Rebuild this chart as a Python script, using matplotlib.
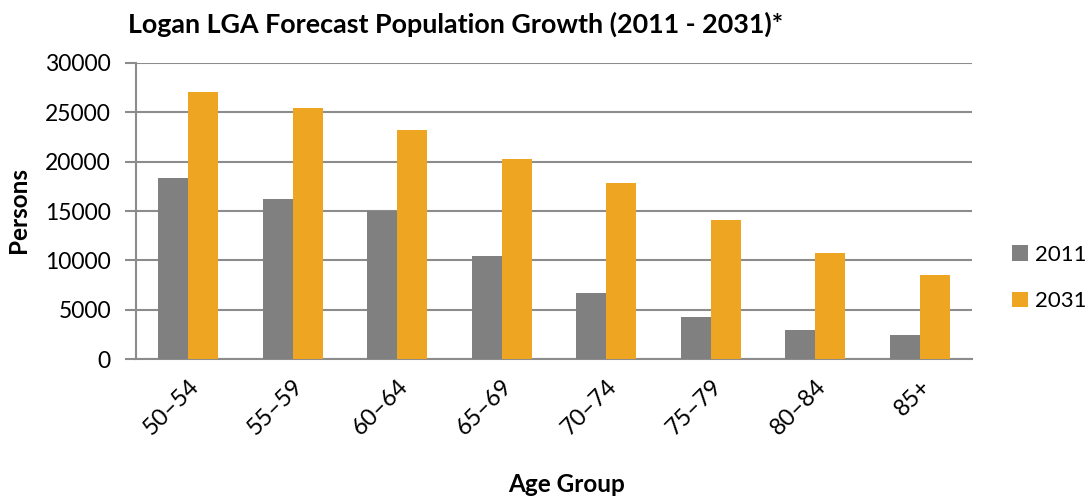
import numpy as np
import matplotlib.pyplot as plt

# data
age_groups = ['50–54', '55–59', '60–64', '65–69', '70–74', '75–79', '80–84', '85+']
pop_2011 = [18300, 16250, 15050, 10400, 6680, 4230, 2900, 2450]
pop_2031 = [27050, 25450, 23250, 20300, 17820, 14100, 10720, 8520]
yticks = [0, 5000, 10000, 15000, 20000, 25000, 30000]

grey = '#808080'
orange = '#EEA522'
line_col = '#8C8C8C'

plt.rcParams['font.family'] = ['Lato', 'DejaVu Sans']

fig = plt.figure(figsize=(10.91, 5), dpi=100)
ax = fig.add_axes([136 / 1091, 1 - 359 / 500, (972 - 136) / 1091, (359 - 63) / 500])

x = np.arange(len(age_groups))
w = 0.287
ax.bar(x - w / 2, pop_2011, w, color=grey, label='2011', zorder=3)
ax.bar(x + w / 2, pop_2031, w, color=orange, label='2031', zorder=3)

ax.set_xlim(-0.5, len(age_groups) - 0.5)
ax.set_ylim(0, 30000)
ax.set_yticks(yticks)
ax.set_yticklabels([str(t) for t in yticks], fontsize=16.5)
ax.yaxis.grid(True, color=line_col, linewidth=1.5, zorder=0)
ax.tick_params(axis='y', length=8, width=1.5, color=line_col, pad=10)
ax.tick_params(axis='x', length=0, pad=12)

ax.set_xticks(x)
ax.set_xticklabels(age_groups, fontsize=17, rotation=45, ha='right',
                   rotation_mode='anchor')

for s in ['top', 'right']:
    ax.spines[s].set_visible(False)
ax.spines['left'].set_color(line_col)
ax.spines['left'].set_linewidth(1.5)
ax.spines['bottom'].set_color(line_col)
ax.spines['bottom'].set_linewidth(1.5)

fig.text(128 / 1091, 1 - 24 / 500, 'Logan LGA Forecast Population Growth (2011 - 2031)*',
         fontsize=19.4, fontweight='bold', ha='left', va='center')
fig.text(19 / 1091, 1 - 210 / 500, 'Persons', fontsize=17.5, fontweight='bold',
         rotation=90, ha='center', va='center')
fig.text(567 / 1091, 1 - 484 / 500, 'Age Group', fontsize=17.5, fontweight='bold',
         ha='center', va='center')

ax.legend(loc='center left', bbox_to_anchor=(1012 / 1091, 1 - 278 / 500),
          bbox_transform=fig.transFigure, frameon=False, fontsize=16,
          handlelength=0.72, handleheight=0.72, handletextpad=0.32,
          labelspacing=1.2, borderpad=0, borderaxespad=0)

fig.savefig('out.png', dpi=100)
